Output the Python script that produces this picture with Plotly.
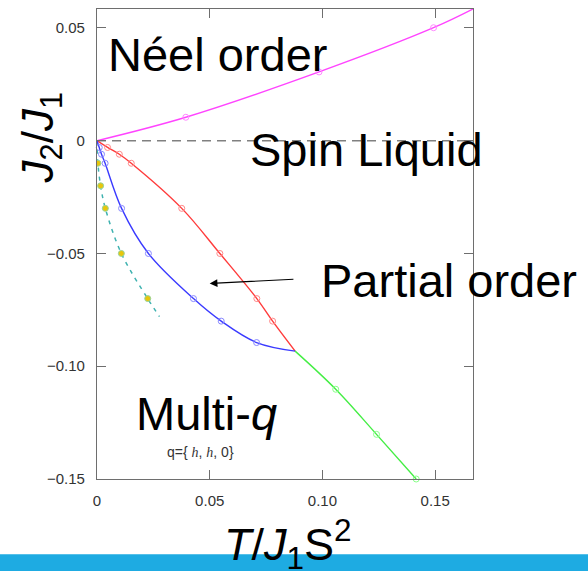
import plotly.graph_objects as go

# --- Datos (T/J1S^2 , J2/J1) ---
# Frontera Neel / liquido de espin (magenta)
neel_x = [0, 0.0394, 0.0985, 0.1493, 0.1668]
neel_y = [0, 0.0104, 0.0305, 0.0501, 0.0584]

# Linea de liquido de espin (J2 = 0)
liquid_x = [0, 0.1668]
liquid_y = [0, 0]

# Frontera liquido / orden parcial (rojo)
red_x = [0, 0.0047, 0.0099, 0.0152, 0.0376, 0.0545, 0.0709, 0.0779, 0.0879]
red_y = [0, -0.003, -0.006, -0.010, -0.030, -0.050, -0.070, -0.080, -0.0933]

# Frontera orden parcial / multi-q (azul)
blue_x = [0, 0.0010, 0.0020, 0.0036, 0.0109, 0.0228, 0.0428, 0.0551, 0.0708, 0.0879]
blue_y = [0, -0.003, -0.006, -0.010, -0.030, -0.050, -0.070, -0.080, -0.0895, -0.0933]

# Frontera liquido / multi-q (verde)
green_x = [0.0879, 0.1059, 0.1240, 0.1416]
green_y = [-0.0933, -0.1102, -0.1302, -0.150]

# Puntos amarillos y curva punteada
dots_x = [0.0004, 0.0016, 0.0037, 0.0108, 0.0225]
dots_y = [-0.010, -0.020, -0.030, -0.050, -0.070]
teal_x = [0, 0.0004, 0.0016, 0.0037, 0.0108, 0.0225, 0.0277]
teal_y = [0, -0.010, -0.020, -0.030, -0.050, -0.070, -0.078]

# Ejes
x_ticks = [0, 0.05, 0.10, 0.15]
x_labels = ['0', '0.05', '0.10', '0.15']
y_ticks = [-0.15, -0.10, -0.05, 0, 0.05]
y_labels = ['\u22120.15', '\u22120.10', '\u22120.05', '0', '0.05']
x_range = [0, 0.1668]
y_range = [-0.15, 0.0584]

FONT = 'Liberation Sans'

fig = go.Figure()


def curva(x, y, color):
    fig.add_trace(go.Scatter(x=x, y=y, mode='lines', hoverinfo='skip',
                             line=dict(color=color, width=1.4, shape='spline')))


def puntos(x, y, color):
    fig.add_trace(go.Scatter(x=x, y=y, mode='markers', cliponaxis=False,
                             marker=dict(symbol='circle-open', size=6,
                                         color=color, line=dict(width=1))))


# linea discontinua gris
fig.add_trace(go.Scatter(x=liquid_x, y=liquid_y, mode='lines',
                         line=dict(color='#808080', width=1.5, dash='9px,6px')))

# curva punteada teal + puntos amarillos
fig.add_trace(go.Scatter(x=teal_x, y=teal_y, mode='lines',
                         line=dict(color='#3fb2b0', width=1.5, dash='4px,5px', shape='spline')))
fig.add_trace(go.Scatter(x=dots_x, y=dots_y, mode='markers',
                         marker=dict(size=6, color='#e8c60c',
                                     line=dict(color='#96d49a', width=1))))

curva(neel_x, neel_y, '#ff44ff')
curva(red_x, red_y, '#ff3b3b')
curva(blue_x, blue_y, '#3a3aff')
curva(green_x, green_y, '#44ee44')

puntos(neel_x[1:4], neel_y[1:4], '#ff88ff')
puntos(red_x[1:-1], red_y[1:-1], '#ff8888')
puntos(blue_x[1:-1], blue_y[1:-1], '#8888ff')
puntos(green_x[1:], green_y[1:], '#88ff88')

big = dict(family=FONT, size=47, color='black')
anotaciones = [
    dict(x=0.0040, y=0.0384, text='Néel order'),
    dict(x=0.067, y=-0.0039, text='Spin Liquid'),
    dict(x=0.0983, y=-0.062, text='Partial order'),
    dict(x=0.0165, y=-0.121, text='Multi-<i>q</i>'),
]
for a in anotaciones:
    fig.add_annotation(xref='x', yref='y', xanchor='left', yanchor='middle',
                       showarrow=False, font=big, **a)

serif = "<span style='font-family:Liberation Serif'><i>h</i></span>"
fig.add_annotation(xref='x', yref='y', x=0.03, y=-0.1379, xanchor='left', yanchor='middle',
                   showarrow=False, text='q={ ' + serif + ', ' + serif + ', 0}',
                   font=dict(family=FONT, size=14, color='#333333'))

# flecha hacia la region de orden parcial
fig.add_annotation(xref='x', yref='y', axref='x', ayref='y',
                   x=0.0500, y=-0.0633, ax=0.0878, ay=-0.0614, text='',
                   showarrow=True, arrowhead=2, arrowsize=1.4, arrowwidth=1.1,
                   arrowcolor='black')

# titulos de ejes
fig.add_annotation(xref='paper', yref='paper', x=0.5075, y=-0.139,
                   xanchor='center', yanchor='middle', showarrow=False,
                   text='<i>T</i>/<i>J</i><sub>1</sub>S<sup>2</sup>',
                   font=dict(family=FONT, size=45, color='black'))
fig.add_annotation(xref='paper', yref='paper', x=-0.150, y=0.726,
                   xanchor='center', yanchor='middle', showarrow=False, textangle=-90,
                   text='<i>J</i><sub>2</sub>/<i>J</i><sub>1</sub>',
                   font=dict(family=FONT, size=44, color='black'))

# franja azul inferior
fig.add_shape(type='rect', xref='paper', yref='paper', layer='below',
              x0=-0.3, x1=1.4, y0=-0.21, y1=-0.16,
              fillcolor='#1eabe2', line=dict(width=0))

eje = dict(showgrid=False, zeroline=False, showline=True, linecolor='#6e6e6e',
           linewidth=1.2, mirror='ticks', ticks='inside', ticklen=9,
           tickcolor='#6e6e6e', tickwidth=1.2, ticklabelstandoff=8,
           tickfont=dict(family=FONT, size=15, color='#333333'))

fig.update_xaxes(range=x_range, tickvals=x_ticks, ticktext=x_labels, **eje)
fig.update_yaxes(range=y_range, tickvals=y_ticks, ticktext=y_labels, **eje)

fig.update_layout(width=588, height=571, showlegend=False,
                  margin=dict(l=97, r=115, t=9, b=92),
                  plot_bgcolor='white', paper_bgcolor='white')

# sin margen del body para que la figura ocupe toda la ventana
fig.write_html("out.html", config={'displayModeBar': False},
               post_script="document.body.style.margin='0px';")
